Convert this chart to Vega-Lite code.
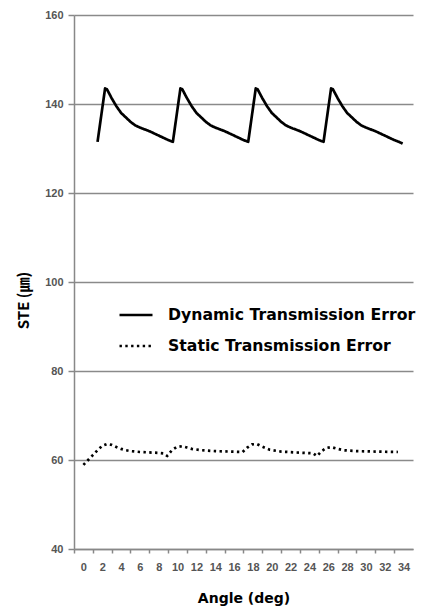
{
  "$schema": "https://vega.github.io/schema/vega-lite/v6.json",
  "width": 339,
  "height": 534,
  "autosize": {"type": "none"},
  "padding": {"left": 74, "top": 15, "right": 9, "bottom": 61},
  "background": "white",
  "config": {"view": {"stroke": null}},
  "data": {
    "values": [
      {"angle": 1.5, "ste": 131.5, "series": "Dynamic Transmission Error"},
      {"angle": 2.3, "ste": 143.5, "series": "Dynamic Transmission Error"},
      {"angle": 2.5, "ste": 143.3, "series": "Dynamic Transmission Error"},
      {"angle": 3.0, "ste": 141.3, "series": "Dynamic Transmission Error"},
      {"angle": 3.5, "ste": 139.5, "series": "Dynamic Transmission Error"},
      {"angle": 4.0, "ste": 138.0, "series": "Dynamic Transmission Error"},
      {"angle": 4.5, "ste": 137.0, "series": "Dynamic Transmission Error"},
      {"angle": 5.0, "ste": 136.0, "series": "Dynamic Transmission Error"},
      {"angle": 5.5, "ste": 135.2, "series": "Dynamic Transmission Error"},
      {"angle": 6.0, "ste": 134.7, "series": "Dynamic Transmission Error"},
      {"angle": 6.5, "ste": 134.3, "series": "Dynamic Transmission Error"},
      {"angle": 7.0, "ste": 133.9, "series": "Dynamic Transmission Error"},
      {"angle": 7.5, "ste": 133.4, "series": "Dynamic Transmission Error"},
      {"angle": 8.0, "ste": 132.9, "series": "Dynamic Transmission Error"},
      {"angle": 8.5, "ste": 132.4, "series": "Dynamic Transmission Error"},
      {"angle": 9.0, "ste": 131.9, "series": "Dynamic Transmission Error"},
      {"angle": 9.5, "ste": 131.5, "series": "Dynamic Transmission Error"},
      {"angle": 10.3, "ste": 143.5, "series": "Dynamic Transmission Error"},
      {"angle": 10.5, "ste": 143.3, "series": "Dynamic Transmission Error"},
      {"angle": 11.0, "ste": 141.3, "series": "Dynamic Transmission Error"},
      {"angle": 11.5, "ste": 139.5, "series": "Dynamic Transmission Error"},
      {"angle": 12.0, "ste": 138.0, "series": "Dynamic Transmission Error"},
      {"angle": 12.5, "ste": 137.0, "series": "Dynamic Transmission Error"},
      {"angle": 13.0, "ste": 136.0, "series": "Dynamic Transmission Error"},
      {"angle": 13.5, "ste": 135.2, "series": "Dynamic Transmission Error"},
      {"angle": 14.0, "ste": 134.7, "series": "Dynamic Transmission Error"},
      {"angle": 14.5, "ste": 134.3, "series": "Dynamic Transmission Error"},
      {"angle": 15.0, "ste": 133.9, "series": "Dynamic Transmission Error"},
      {"angle": 15.5, "ste": 133.4, "series": "Dynamic Transmission Error"},
      {"angle": 16.0, "ste": 132.9, "series": "Dynamic Transmission Error"},
      {"angle": 16.5, "ste": 132.4, "series": "Dynamic Transmission Error"},
      {"angle": 17.0, "ste": 131.9, "series": "Dynamic Transmission Error"},
      {"angle": 17.5, "ste": 131.5, "series": "Dynamic Transmission Error"},
      {"angle": 18.3, "ste": 143.5, "series": "Dynamic Transmission Error"},
      {"angle": 18.5, "ste": 143.3, "series": "Dynamic Transmission Error"},
      {"angle": 19.0, "ste": 141.3, "series": "Dynamic Transmission Error"},
      {"angle": 19.5, "ste": 139.5, "series": "Dynamic Transmission Error"},
      {"angle": 20.0, "ste": 138.0, "series": "Dynamic Transmission Error"},
      {"angle": 20.5, "ste": 137.0, "series": "Dynamic Transmission Error"},
      {"angle": 21.0, "ste": 136.0, "series": "Dynamic Transmission Error"},
      {"angle": 21.5, "ste": 135.2, "series": "Dynamic Transmission Error"},
      {"angle": 22.0, "ste": 134.7, "series": "Dynamic Transmission Error"},
      {"angle": 22.5, "ste": 134.3, "series": "Dynamic Transmission Error"},
      {"angle": 23.0, "ste": 133.9, "series": "Dynamic Transmission Error"},
      {"angle": 23.5, "ste": 133.4, "series": "Dynamic Transmission Error"},
      {"angle": 24.0, "ste": 132.9, "series": "Dynamic Transmission Error"},
      {"angle": 24.5, "ste": 132.4, "series": "Dynamic Transmission Error"},
      {"angle": 25.0, "ste": 131.9, "series": "Dynamic Transmission Error"},
      {"angle": 25.5, "ste": 131.5, "series": "Dynamic Transmission Error"},
      {"angle": 26.3, "ste": 143.5, "series": "Dynamic Transmission Error"},
      {"angle": 26.5, "ste": 143.3, "series": "Dynamic Transmission Error"},
      {"angle": 27.0, "ste": 141.3, "series": "Dynamic Transmission Error"},
      {"angle": 27.5, "ste": 139.5, "series": "Dynamic Transmission Error"},
      {"angle": 28.0, "ste": 138.0, "series": "Dynamic Transmission Error"},
      {"angle": 28.5, "ste": 137.0, "series": "Dynamic Transmission Error"},
      {"angle": 29.0, "ste": 136.0, "series": "Dynamic Transmission Error"},
      {"angle": 29.5, "ste": 135.2, "series": "Dynamic Transmission Error"},
      {"angle": 30.0, "ste": 134.7, "series": "Dynamic Transmission Error"},
      {"angle": 30.5, "ste": 134.3, "series": "Dynamic Transmission Error"},
      {"angle": 31.0, "ste": 133.9, "series": "Dynamic Transmission Error"},
      {"angle": 31.5, "ste": 133.4, "series": "Dynamic Transmission Error"},
      {"angle": 32.0, "ste": 132.9, "series": "Dynamic Transmission Error"},
      {"angle": 32.5, "ste": 132.4, "series": "Dynamic Transmission Error"},
      {"angle": 33.0, "ste": 131.9, "series": "Dynamic Transmission Error"},
      {"angle": 33.5, "ste": 131.5, "series": "Dynamic Transmission Error"},
      {"angle": 33.9, "ste": 131.1, "series": "Dynamic Transmission Error"},
      {"angle": 0.0, "ste": 58.9, "series": "Static Transmission Error"},
      {"angle": 0.5, "ste": 60.0, "series": "Static Transmission Error"},
      {"angle": 1.0, "ste": 61.1, "series": "Static Transmission Error"},
      {"angle": 1.5, "ste": 62.2, "series": "Static Transmission Error"},
      {"angle": 2.0, "ste": 63.2, "series": "Static Transmission Error"},
      {"angle": 2.5, "ste": 63.6, "series": "Static Transmission Error"},
      {"angle": 3.0, "ste": 63.4, "series": "Static Transmission Error"},
      {"angle": 3.5, "ste": 62.9, "series": "Static Transmission Error"},
      {"angle": 4.0, "ste": 62.5, "series": "Static Transmission Error"},
      {"angle": 4.5, "ste": 62.2, "series": "Static Transmission Error"},
      {"angle": 5.0, "ste": 62.0, "series": "Static Transmission Error"},
      {"angle": 6.0, "ste": 61.8, "series": "Static Transmission Error"},
      {"angle": 7.0, "ste": 61.7, "series": "Static Transmission Error"},
      {"angle": 8.0, "ste": 61.6, "series": "Static Transmission Error"},
      {"angle": 8.5, "ste": 61.5, "series": "Static Transmission Error"},
      {"angle": 8.9, "ste": 60.9, "series": "Static Transmission Error"},
      {"angle": 9.4, "ste": 62.2, "series": "Static Transmission Error"},
      {"angle": 9.9, "ste": 62.9, "series": "Static Transmission Error"},
      {"angle": 10.5, "ste": 63.1, "series": "Static Transmission Error"},
      {"angle": 11.0, "ste": 62.8, "series": "Static Transmission Error"},
      {"angle": 11.5, "ste": 62.5, "series": "Static Transmission Error"},
      {"angle": 12.5, "ste": 62.2, "series": "Static Transmission Error"},
      {"angle": 14.0, "ste": 62.0, "series": "Static Transmission Error"},
      {"angle": 15.5, "ste": 61.9, "series": "Static Transmission Error"},
      {"angle": 16.9, "ste": 61.8, "series": "Static Transmission Error"},
      {"angle": 17.4, "ste": 62.8, "series": "Static Transmission Error"},
      {"angle": 17.9, "ste": 63.5, "series": "Static Transmission Error"},
      {"angle": 18.4, "ste": 63.6, "series": "Static Transmission Error"},
      {"angle": 19.0, "ste": 63.0, "series": "Static Transmission Error"},
      {"angle": 19.8, "ste": 62.3, "series": "Static Transmission Error"},
      {"angle": 21.0, "ste": 61.9, "series": "Static Transmission Error"},
      {"angle": 22.5, "ste": 61.7, "series": "Static Transmission Error"},
      {"angle": 24.4, "ste": 61.5, "series": "Static Transmission Error"},
      {"angle": 24.8, "ste": 60.9, "series": "Static Transmission Error"},
      {"angle": 25.3, "ste": 62.0, "series": "Static Transmission Error"},
      {"angle": 25.8, "ste": 62.7, "series": "Static Transmission Error"},
      {"angle": 26.3, "ste": 62.9, "series": "Static Transmission Error"},
      {"angle": 27.0, "ste": 62.5, "series": "Static Transmission Error"},
      {"angle": 27.6, "ste": 62.2, "series": "Static Transmission Error"},
      {"angle": 29.0, "ste": 62.0, "series": "Static Transmission Error"},
      {"angle": 31.0, "ste": 61.9, "series": "Static Transmission Error"},
      {"angle": 33.4, "ste": 61.8, "series": "Static Transmission Error"}
    ]
  },
  "mark": {"type": "line", "color": "black", "strokeWidth": 2.7, "strokeCap": "butt", "strokeJoin": "round"},
  "encoding": {
    "x": {
      "field": "angle",
      "type": "quantitative",
      "scale": {"domain": [-1, 35], "nice": false, "zero": false},
      "axis": {
        "values": [0, 2, 4, 6, 8, 10, 12, 14, 16, 18, 20, 22, 24, 26, 28, 30, 32, 34, 36],
        "labelExpr": "datum.value > 35 ? '' : datum.label",
        "tickOffset": -9.42,
        "labelOffset": 9.42,
        "grid": false,
        "tickSize": 4,
        "tickColor": "#888888",
        "tickWidth": 1.5,
        "domainColor": "#888888",
        "domainWidth": 1.5,
        "labelPadding": 8,
        "labelFont": "Liberation Sans",
        "labelFontWeight": "bold",
        "labelFontSize": 11,
        "labelColor": "#555555",
        "labelFlush": false,
        "labelOverlap": false,
        "title": "Angle (deg)",
        "titleFont": "DejaVu Sans",
        "titleFontWeight": "bold",
        "titleFontSize": 14,
        "titleColor": "black",
        "titlePadding": 19
      }
    },
    "y": {
      "field": "ste",
      "type": "quantitative",
      "scale": {"domain": [40, 160], "nice": false, "zero": false},
      "axis": {
        "values": [40, 60, 80, 100, 120, 140, 160],
        "grid": true,
        "gridColor": "#8a8a8a",
        "gridWidth": 1.5,
        "tickSize": 6,
        "tickColor": "#888888",
        "tickWidth": 1.5,
        "domainColor": "#888888",
        "domainWidth": 1.5,
        "labelPadding": 5,
        "labelFont": "Liberation Sans",
        "labelFontWeight": "bold",
        "labelFontSize": 11,
        "labelColor": "#555555",
        "title": "STE (㎛)",
        "titleFont": "Noto Sans CJK KR",
        "titleFontWeight": "bold",
        "titleFontSize": 15,
        "titleColor": "black",
        "titleAngle": -90,
        "titleAlign": "center",
        "titleBaseline": "middle",
        "titleX": -51,
        "titleY": 285
      }
    },
    "strokeDash": {
      "field": "series",
      "type": "nominal",
      "scale": {
        "domain": ["Dynamic Transmission Error", "Static Transmission Error"],
        "range": [[1, 0], [2.4, 3.4]]
      },
      "legend": {
        "orient": "none",
        "legendX": 44,
        "legendY": 282,
        "title": null,
        "symbolType": "stroke",
        "symbolSize": 1089,
        "symbolStrokeWidth": 2.7,
        "symbolStrokeColor": "black",
        "labelFont": "DejaVu Sans",
        "labelFontWeight": "bold",
        "labelFontSize": 15.7,
        "labelColor": "black",
        "labelOffset": 14,
        "labelLimit": 400,
        "rowPadding": 5,
        "padding": 0
      }
    }
  }
}
